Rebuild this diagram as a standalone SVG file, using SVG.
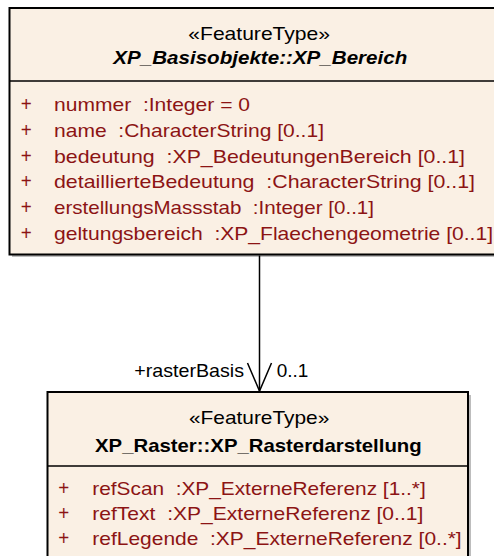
<svg xmlns="http://www.w3.org/2000/svg" width="494" height="556" viewBox="0 0 494 556">
<style>
.box{fill:#FAF0E4;stroke:#000;stroke-width:2}
.shadow{fill:#BDBDBD}
.div{stroke:#000;stroke-width:1.5}
.st{font-family:"Liberation Sans",Arial,sans-serif;font-size:18.5px;fill:#000}
.nm{font-family:"Liberation Sans",Arial,sans-serif;font-size:18.5px;font-weight:bold;fill:#000}
.at{font-family:"Liberation Sans",Arial,sans-serif;font-size:18.5px;fill:#8C1414}
.pl{font-family:"Liberation Sans",Arial,sans-serif;font-size:20px;fill:#8C1414}
.lb{font-family:"Liberation Sans",Arial,sans-serif;font-size:18.5px;fill:#000}
.conn{stroke:#000;stroke-width:1.5;fill:none}
</style>
<g id="XP_Bereich">
<rect class="shadow" x="12" y="11" width="500" height="246"/>
<rect class="box" x="9.5" y="8" width="500" height="246.5"/>
<line class="div" x1="9.5" y1="81" x2="494" y2="81"/>
<text class="st" x="188.3" y="40" textLength="141.7" lengthAdjust="spacingAndGlyphs">«FeatureType»</text>
<text class="nm" x="113.3" y="64" font-style="italic" textLength="294" lengthAdjust="spacingAndGlyphs">XP_Basisobjekte::XP_Bereich</text>
<g class="at">
<text class="pl" x="20.7" y="111" textLength="11" lengthAdjust="spacingAndGlyphs">+</text>
<text x="54" y="111" textLength="196" lengthAdjust="spacingAndGlyphs">nummer&#160;&#160;:Integer = 0</text>
<text class="pl" x="20.7" y="136.7" textLength="11" lengthAdjust="spacingAndGlyphs">+</text>
<text x="54" y="136.7" textLength="270" lengthAdjust="spacingAndGlyphs">name&#160;&#160;:CharacterString [0..1]</text>
<text class="pl" x="20.7" y="162.5" textLength="11" lengthAdjust="spacingAndGlyphs">+</text>
<text x="54" y="162.5" textLength="411" lengthAdjust="spacingAndGlyphs">bedeutung&#160;&#160;:XP_BedeutungenBereich [0..1]</text>
<text class="pl" x="20.7" y="188.3" textLength="11" lengthAdjust="spacingAndGlyphs">+</text>
<text x="54" y="188.3" textLength="421" lengthAdjust="spacingAndGlyphs">detaillierteBedeutung&#160;&#160;:CharacterString [0..1]</text>
<text class="pl" x="20.7" y="214.2" textLength="11" lengthAdjust="spacingAndGlyphs">+</text>
<text x="54" y="214.2" textLength="320" lengthAdjust="spacingAndGlyphs">erstellungsMassstab&#160;&#160;:Integer [0..1]</text>
<text class="pl" x="20.7" y="240" textLength="11" lengthAdjust="spacingAndGlyphs">+</text>
<text x="54" y="240" textLength="439" lengthAdjust="spacingAndGlyphs">geltungsbereich&#160;&#160;:XP_Flaechengeometrie [0..1]</text>
</g>
</g>
<g id="XP_Rasterdarstellung">
<rect class="shadow" x="50" y="395" width="421" height="200"/>
<rect class="box" x="47.5" y="392" width="420.5" height="200"/>
<line class="div" x1="47.5" y1="466" x2="468" y2="466"/>
<text class="st" x="189" y="424" textLength="140.3" lengthAdjust="spacingAndGlyphs">«FeatureType»</text>
<text class="nm" x="95" y="451.7" textLength="326.7" lengthAdjust="spacingAndGlyphs">XP_Raster::XP_Rasterdarstellung</text>
<g class="at">
<text class="pl" x="58.3" y="495" textLength="11" lengthAdjust="spacingAndGlyphs">+</text>
<text x="92.3" y="495" textLength="333.4" lengthAdjust="spacingAndGlyphs">refScan&#160;&#160;:XP_ExterneReferenz [1..*]</text>
<text class="pl" x="58.3" y="520" textLength="11" lengthAdjust="spacingAndGlyphs">+</text>
<text x="92.3" y="520" textLength="331" lengthAdjust="spacingAndGlyphs">refText&#160;&#160;:XP_ExterneReferenz [0..1]</text>
<text class="pl" x="58.3" y="545" textLength="11" lengthAdjust="spacingAndGlyphs">+</text>
<text x="92.3" y="545" textLength="369.4" lengthAdjust="spacingAndGlyphs">refLegende&#160;&#160;:XP_ExterneReferenz [0..*]</text>
</g>
</g>
<g id="connectors">
<line class="conn" x1="259.5" y1="255.5" x2="259.5" y2="391"/>
<polyline class="conn" points="247.5,363 259.5,391 271.5,363"/>
<text class="lb" x="134.3" y="376.5" textLength="109.7" lengthAdjust="spacingAndGlyphs">+rasterBasis</text>
<text class="lb" x="276.7" y="376.5" textLength="31.6" lengthAdjust="spacingAndGlyphs">0..1</text>
</g>
</svg>
